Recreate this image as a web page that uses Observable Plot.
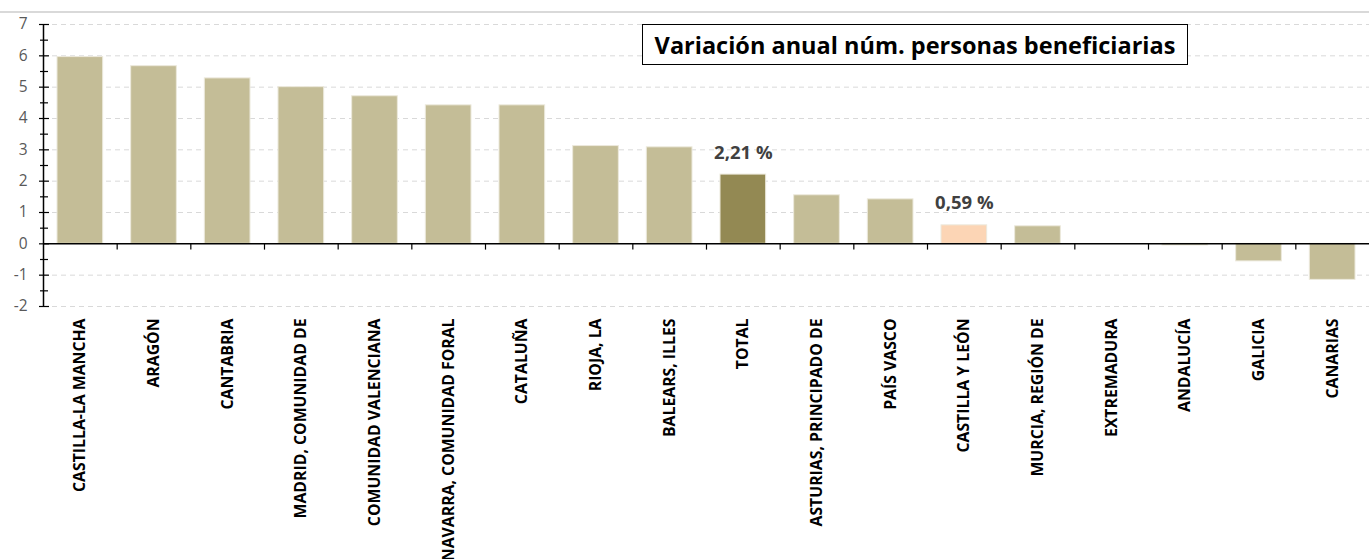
<!DOCTYPE html>
<html><head><meta charset="utf-8">
<script src="https://cdn.jsdelivr.net/npm/d3@7"></script>
<script src="https://cdn.jsdelivr.net/npm/@observablehq/plot@0.6"></script>
<style>
body{margin:0;background:#fff;}
#wrap{position:relative;width:1369px;height:559px;overflow:hidden;font-family:"Open Sans",sans-serif;}
#wrap svg{position:absolute;left:0;top:0;}
#topline{position:absolute;left:0;top:11px;width:1369px;height:0;border-top:2px solid #d9d9d9;z-index:2;}
#title{position:absolute;left:642px;top:24px;width:544px;height:39px;border:1.5px solid #000;background:#fff;font-weight:bold;font-size:23.5px;letter-spacing:0;display:flex;align-items:center;justify-content:center;z-index:2;color:#000;white-space:nowrap;}
</style></head>
<body><div id="wrap"><div id="topline"></div><div id="title">Variación anual núm. personas beneficiarias</div></div>
<script>
const regions = ["CASTILLA-LA MANCHA","ARAGÓN","CANTABRIA","MADRID, COMUNIDAD DE","COMUNIDAD VALENCIANA","NAVARRA, COMUNIDAD FORAL","CATALUÑA","RIOJA, LA","BALEARS, ILLES","TOTAL","ASTURIAS, PRINCIPADO DE","PAÍS VASCO","CASTILLA Y LEÓN","MURCIA, REGIÓN DE","EXTREMADURA","ANDALUCÍA","GALICIA","CANARIAS"];
const values = [5.96, 5.67, 5.28, 5.00, 4.71, 4.42, 4.42, 3.12, 3.08, 2.21, 1.55, 1.42, 0.59, 0.56, 0.00, -0.05, -0.56, -1.15];
const yTicks = [-2, -1, 0, 1, 2, 3, 4, 5, 6, 7];
const yMinorTicks = [-1.5, -0.5, 0.5, 1.5, 2.5, 3.5, 4.5, 5.5, 6.5];
const labelled = ["TOTAL", "CASTILLA Y LEÓN"];
const barColors = {"TOTAL": "#938953", "CASTILLA Y LEÓN": "#fcd5b5"};
const baseColor = "#c4bd97";

const data = regions.map((r, i) => ({region: r, value: values[i]}));
const W = 1369, H = 559, mL = 43, mR = 0, mT = 24, mB = 253;
const plotW = W - mL - mR;
const pIn = 0.38, pOut = 0.19;
const step = plotW / (regions.length - pIn + 2 * pOut);
const fmt = v => d3.format(".2f")(v).replace(".", ",") + " %";

const chart = Plot.plot({
  width: W, height: H,
  marginLeft: mL, marginRight: mR, marginTop: mT, marginBottom: mB,
  style: {fontFamily: "Open Sans, sans-serif", background: "transparent"},
  x: {domain: regions, paddingInner: pIn, paddingOuter: pOut, round: false, label: null},
  y: {domain: [-2, 7], label: null},
  color: {type: "identity"},
  marks: [
    Plot.ruleY(yTicks.filter(d => d !== 0), {y: d => d, stroke: "#d9d9d9", strokeWidth: 1, strokeDasharray: "5,4"}),
    Plot.barY(data, {x: "region", y: "value", fill: d => barColors[d.region] ?? baseColor, stroke: "#ece9dc", strokeWidth: 1}),
    Plot.ruleY([0], {stroke: "#000", strokeWidth: 1.5}),
    Plot.ruleX(regions.slice(1), {x: d => d, dx: -step / 2, y1: 0, y2: -0.2, stroke: "#000", strokeWidth: 1.2}),
    Plot.ruleX([regions[0]], {x: d => d, dx: -step / 2, y1: -2, y2: 7, stroke: "#000", strokeWidth: 1.5}),
    Plot.ruleY(yTicks, {y: d => d, insetRight: plotW - 10, dx: -4, stroke: "#000", strokeWidth: 1.2}),
    Plot.ruleY(yMinorTicks, {y: d => d, insetRight: plotW - 8, dx: -3, stroke: "#000", strokeWidth: 1.2}),
    Plot.axisY({ticks: yTicks, tickSize: 0, tickPadding: 16, fontSize: 15.5, color: "#595959", tickFormat: d => String(d).replace("−", "-")}),
    Plot.axisX({tickSize: 0, tickRotate: -90, tickPadding: 12, fontSize: 15.8, fontWeight: "bold", color: "#000"}),
    Plot.text(data.filter(d => labelled.includes(d.region)), {x: "region", y: "value", text: d => fmt(d.value), dy: -22, fontSize: 18.5, fontWeight: "bold", fill: "#404040"})
  ]
});
document.getElementById("wrap").prepend(chart);
</script>
</body></html>
